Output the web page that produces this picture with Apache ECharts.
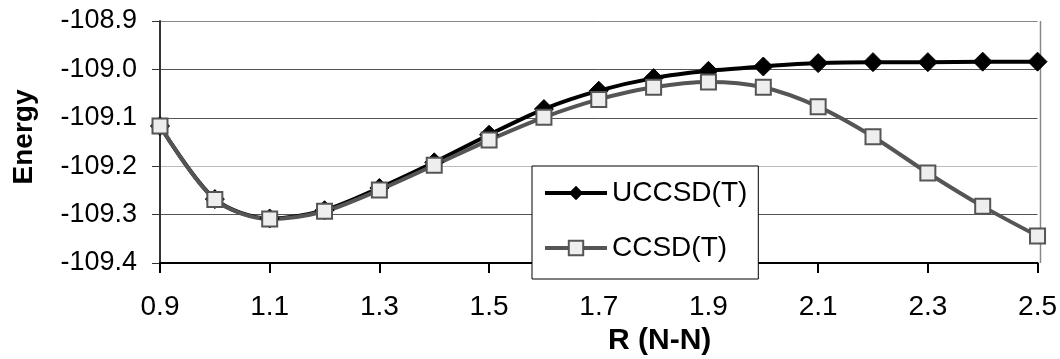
<!DOCTYPE html>
<html>
<head>
<meta charset="utf-8">
<script src="https://cdn.jsdelivr.net/npm/echarts@6/dist/echarts.min.js"></script>
<style>
  html, body { margin: 0; padding: 0; background: #fff; }
  #main { width: 1060px; height: 359px; }
</style>
</head>
<body>
<div id="main"></div>
<script>
// bond length R (N-N)
const rValues = ["0.9", "1.0", "1.1", "1.2", "1.3", "1.4", "1.5", "1.6", "1.7",
  "1.8", "1.9", "2.0", "2.1", "2.2", "2.3", "2.4", "2.5"];

const uccsd = [-109.117, -109.268, -109.308, -109.291, -109.245, -109.192, -109.135,
  -109.082, -109.044, -109.018, -109.003, -108.994, -108.987, -108.985, -108.985,
  -108.984, -108.984];

const ccsd = [-109.117, -109.269, -109.309, -109.293, -109.249, -109.198, -109.146,
  -109.099, -109.062, -109.037, -109.026, -109.037, -109.077, -109.139, -109.214,
  -109.283, -109.344];

const font = "Liberation Sans, Arial, sans-serif";

let myChart = echarts.init(document.getElementById("main"));
myChart.setOption({
  animation: false,
  grid: { left: 160, right: 20, top: 21, bottom: 96 },
  legend: {
    orient: "vertical",
    left: 532,
    top: 166,
    backgroundColor: "#fff",
    borderColor: "#000",
    borderWidth: 1,
    padding: [13, 11, 17, 11],
    itemGap: 27,
    itemWidth: 62,
    itemHeight: 18,
    lineStyle: { width: 4 },
    textStyle: { fontFamily: font, fontSize: 28, color: "#000" },
    data: ["UCCSD(T)", "CCSD(T)"]
  },
  xAxis: {
    type: "category",
    data: rValues,
    boundaryGap: false,
    axisLine: { lineStyle: { color: "#000", width: 2 } },
    axisTick: { interval: 1, length: 10, lineStyle: { color: "#000", width: 2 } },
    axisLabel: { interval: 1, margin: 30, fontFamily: font, fontSize: 28, color: "#000" },
    splitLine: { show: false }
  },
  yAxis: {
    type: "value",
    min: -109.4,
    max: -108.9,
    interval: 0.1,
    axisLine: { show: true, lineStyle: { color: "#333", width: 2 } },
    axisTick: { show: true, length: 8, lineStyle: { color: "#333" } },
    axisLabel: {
      margin: 23,
      fontFamily: font,
      fontSize: 27,
      color: "#000",
      formatter: v => v.toFixed(1)
    },
    splitLine: {
      lineStyle: { color: ["#555", "#555", "#bbb", "#555", "#555", "#888"], width: 1 }
    }
  },
  series: [
    {
      name: "UCCSD(T)",
      type: "line",
      data: uccsd,
      smooth: 0.3,
      symbol: "diamond",
      symbolSize: 19,
      lineStyle: { color: "#000", width: 4 },
      itemStyle: { color: "#000", borderColor: "#000" }
    },
    {
      name: "CCSD(T)",
      type: "line",
      data: ccsd,
      smooth: 0.3,
      symbol: "rect",
      symbolSize: 15,
      lineStyle: { color: "#555", width: 4 },
      itemStyle: { color: "#eee", borderColor: "#555", borderWidth: 2 }
    }
  ],
  graphic: [
    {
      type: "line",
      silent: true,
      z: 1,
      shape: { x1: 1040.5, y1: 21, x2: 1040.5, y2: 263 },
      style: { stroke: "#888", lineWidth: 1.5 }
    },
    {
      type: "text",
      left: 608,
      top: 326,
      style: { text: "R (N-N)", font: "bold 30px Liberation Sans, Arial, sans-serif", fill: "#000" }
    },
    {
      type: "text",
      x: 24,
      y: 137,
      rotation: Math.PI / 2,
      style: {
        text: "Energy",
        font: "bold 28px Liberation Sans, Arial, sans-serif",
        fill: "#000",
        align: "center",
        verticalAlign: "middle"
      }
    }
  ]
});
</script>
</body>
</html>
